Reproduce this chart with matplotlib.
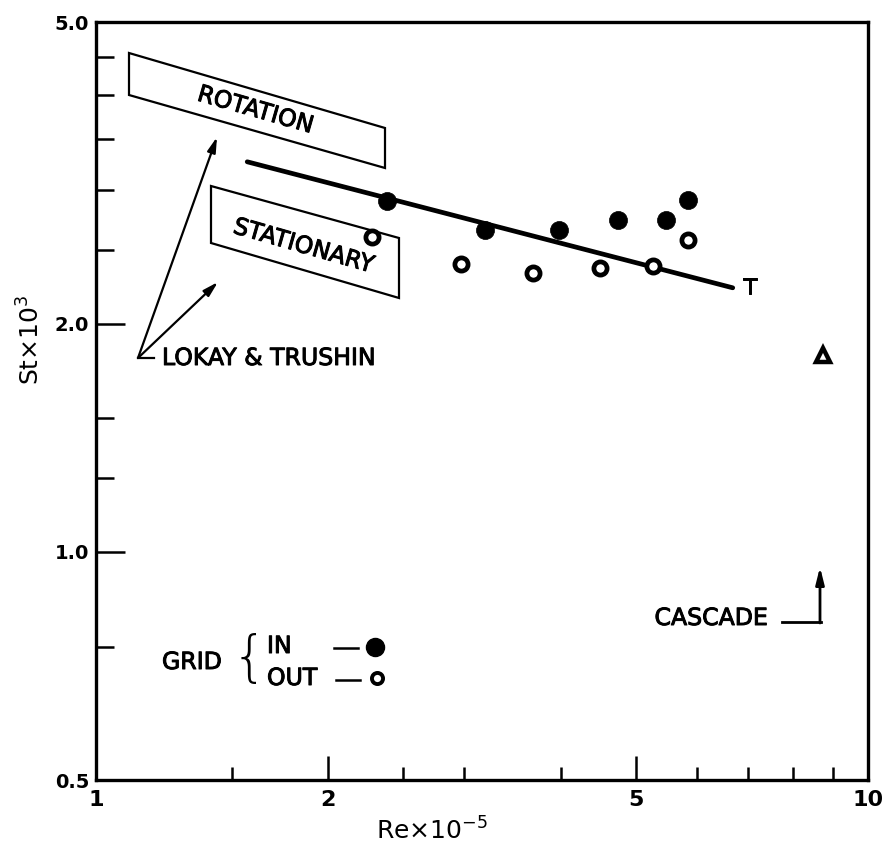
import matplotlib
matplotlib.use("Agg")
import matplotlib.pyplot as plt
import matplotlib.patheffects as pe
from matplotlib.patches import Polygon
from matplotlib.lines import Line2D

plt.rcParams['font.family'] = ['DejaVu Sans']
plt.rcParams['mathtext.fontset'] = 'dejavusans'

# ---- data ----
re_in = [2.38, 3.19, 3.98, 4.75, 5.47, 5.84]
st_in = [2.90, 2.66, 2.66, 2.74, 2.74, 2.91]
re_out = [2.28, 2.97, 3.68, 4.50, 5.27, 5.84]
st_out = [2.60, 2.40, 2.33, 2.37, 2.38, 2.58]
re_fit = [1.57, 6.68]
st_fit = [3.27, 2.23]
re_cascade = [8.75]
st_cascade = [1.82]

x_major = [1, 2, 5, 10]
x_major_labels = ["1", "2", "5", "10"]
x_minor = [1.5, 2.5, 3, 4, 6, 7, 8, 9]
y_major = [0.5, 1.0, 2.0, 5.0]
y_major_labels = ["0.5", "1.0", "2.0", "5.0"]
y_minor = [0.75, 1.25, 1.5, 2.5, 3.0, 3.5, 4.0, 4.5]

W, H = 884, 851
fig = plt.figure(figsize=(W / 100, H / 100), dpi=100)
L, R, T, B = 96, 868, 22, 780
ax = fig.add_axes([L / W, 1 - B / H, (R - L) / W, (B - T) / H])
ax.set_xscale('log')
ax.set_yscale('log')
ax.set_xlim(1, 10)
ax.set_ylim(0.5, 5.0)

heavy = [pe.withStroke(linewidth=0.7, foreground='black')]


def P(px, py):
    """pixel position in the picture -> axes fraction (for annotations)"""
    return ((px - L) / (R - L), (B - py) / (B - T))


def label(px, py, s, **kw):
    kw.setdefault('fontsize', 17)
    return ax.text(*P(px, py), s, transform=ax.transAxes, path_effects=heavy,
                   **kw)


# ---- ticks ----
ax.set_xticks(x_major)
ax.set_xticklabels(x_major_labels)
ax.set_xticks(x_minor, minor=True)
ax.set_xticklabels([], minor=True)
ax.set_yticks(y_major)
ax.set_yticklabels(y_major_labels)
ax.set_yticks(y_minor, minor=True)
ax.set_yticklabels([], minor=True)
ax.tick_params(axis='x', which='major', direction='in', length=17, width=1.8,
               labelsize=16, pad=7)
ax.tick_params(axis='x', which='minor', direction='in', length=9.5, width=1.8)
ax.tick_params(axis='y', which='major', direction='in', length=21, width=1.8,
               labelsize=14, pad=5)
ax.tick_params(axis='y', which='minor', direction='in', length=13, width=1.8)
for lab in ax.get_yticklabels() + ax.get_xticklabels():
    lab.set_fontweight('bold')
for s in ax.spines.values():
    s.set_linewidth(2.4)

ax.set_xlabel(r"Re$\times$10$^{-5}$", fontsize=18)
ax.xaxis.set_label_coords(P(432, 0)[0], -0.05)
ax.set_ylabel(r"St$\times$10$^{3}$", fontsize=18)
ax.yaxis.set_label_coords(-0.066, P(0, 340)[1])

# ---- data marks ----
ax.plot(re_fit, st_fit, color='black', lw=3.4, solid_capstyle='round', zorder=3)
ax.plot(re_in, st_in, 'o', ms=13, mfc='black', mec='black', mew=0.5, zorder=5)
ax.plot(re_out, st_out, 'o', ms=9.5, mfc='white', mec='black', mew=3.4, zorder=5)
ax.plot(re_cascade, st_cascade, '^', ms=10, mfc='white', mec='black', mew=3.2,
        zorder=5)

# ---- annotation boxes ----
rot_box = Polygon([P(129, 53), P(385, 128), P(385, 168), P(129, 95)],
                  closed=True, transform=ax.transAxes, fc='white', ec='black',
                  lw=1.6, zorder=2)
ax.add_patch(rot_box)
label(256, 110, "ROTATION", rotation=-16, rotation_mode='anchor',
      ha='center', va='center', zorder=4)

sta_box = Polygon([P(211, 186), P(399, 238), P(399, 298), P(211, 243)],
                  closed=True, transform=ax.transAxes, fc='white', ec='black',
                  lw=1.6, zorder=2)
ax.add_patch(sta_box)
label(304, 246, "STATIONARY", rotation=-16, rotation_mode='anchor',
      ha='center', va='center', zorder=4)

# arrows to the boxes
for tip in [(217, 137), (218, 282)]:
    ax.annotate("", xy=P(*tip), xycoords='axes fraction',
                xytext=P(138, 358), textcoords='axes fraction',
                arrowprops=dict(arrowstyle='-|>,head_length=0.9,head_width=0.25',
                                color='black', lw=1.6, shrinkA=0, shrinkB=0))
ax.add_line(Line2D(*zip(P(138, 358), P(154, 358)), transform=ax.transAxes,
                   color='black', lw=1.6))
label(162, 358, "LOKAY & TRUSHIN", ha='left', va='center')

label(743, 288, "T", ha='left', va='center', fontsize=16)

# cascade arrow
label(768, 618, "CASCADE", ha='right', va='center')
ax.add_line(Line2D(*zip(P(782, 622), P(821, 622)), transform=ax.transAxes,
                   color='black', lw=2.0))
ax.annotate("", xy=P(820, 567), xycoords='axes fraction',
            xytext=P(820, 623), textcoords='axes fraction',
            arrowprops=dict(arrowstyle='-|>,head_length=1.0,head_width=0.25',
                            color='black', lw=2.0, shrinkA=0, shrinkB=0))

# grid legend
label(162, 662, "GRID", ha='left', va='center')
ax.text(*P(249, 660), "{", transform=ax.transAxes, ha='center', va='center',
        fontsize=40, fontweight='light')
label(267, 646, "IN", ha='left', va='center')
label(267, 678, "OUT", ha='left', va='center')
ax.add_line(Line2D(*zip(P(334, 648), P(358, 648)), transform=ax.transAxes,
                   color='black', lw=1.8))
ax.add_line(Line2D(*zip(P(336, 680), P(360, 680)), transform=ax.transAxes,
                   color='black', lw=1.8))
ax.plot(*P(375, 647), 'o', transform=ax.transAxes, ms=13, mfc='black',
        mec='black', clip_on=False)
ax.plot(*P(377, 678), 'o', transform=ax.transAxes, ms=8, mfc='white',
        mec='black', mew=2.8, clip_on=False)

fig.savefig("out.png", dpi=100)
